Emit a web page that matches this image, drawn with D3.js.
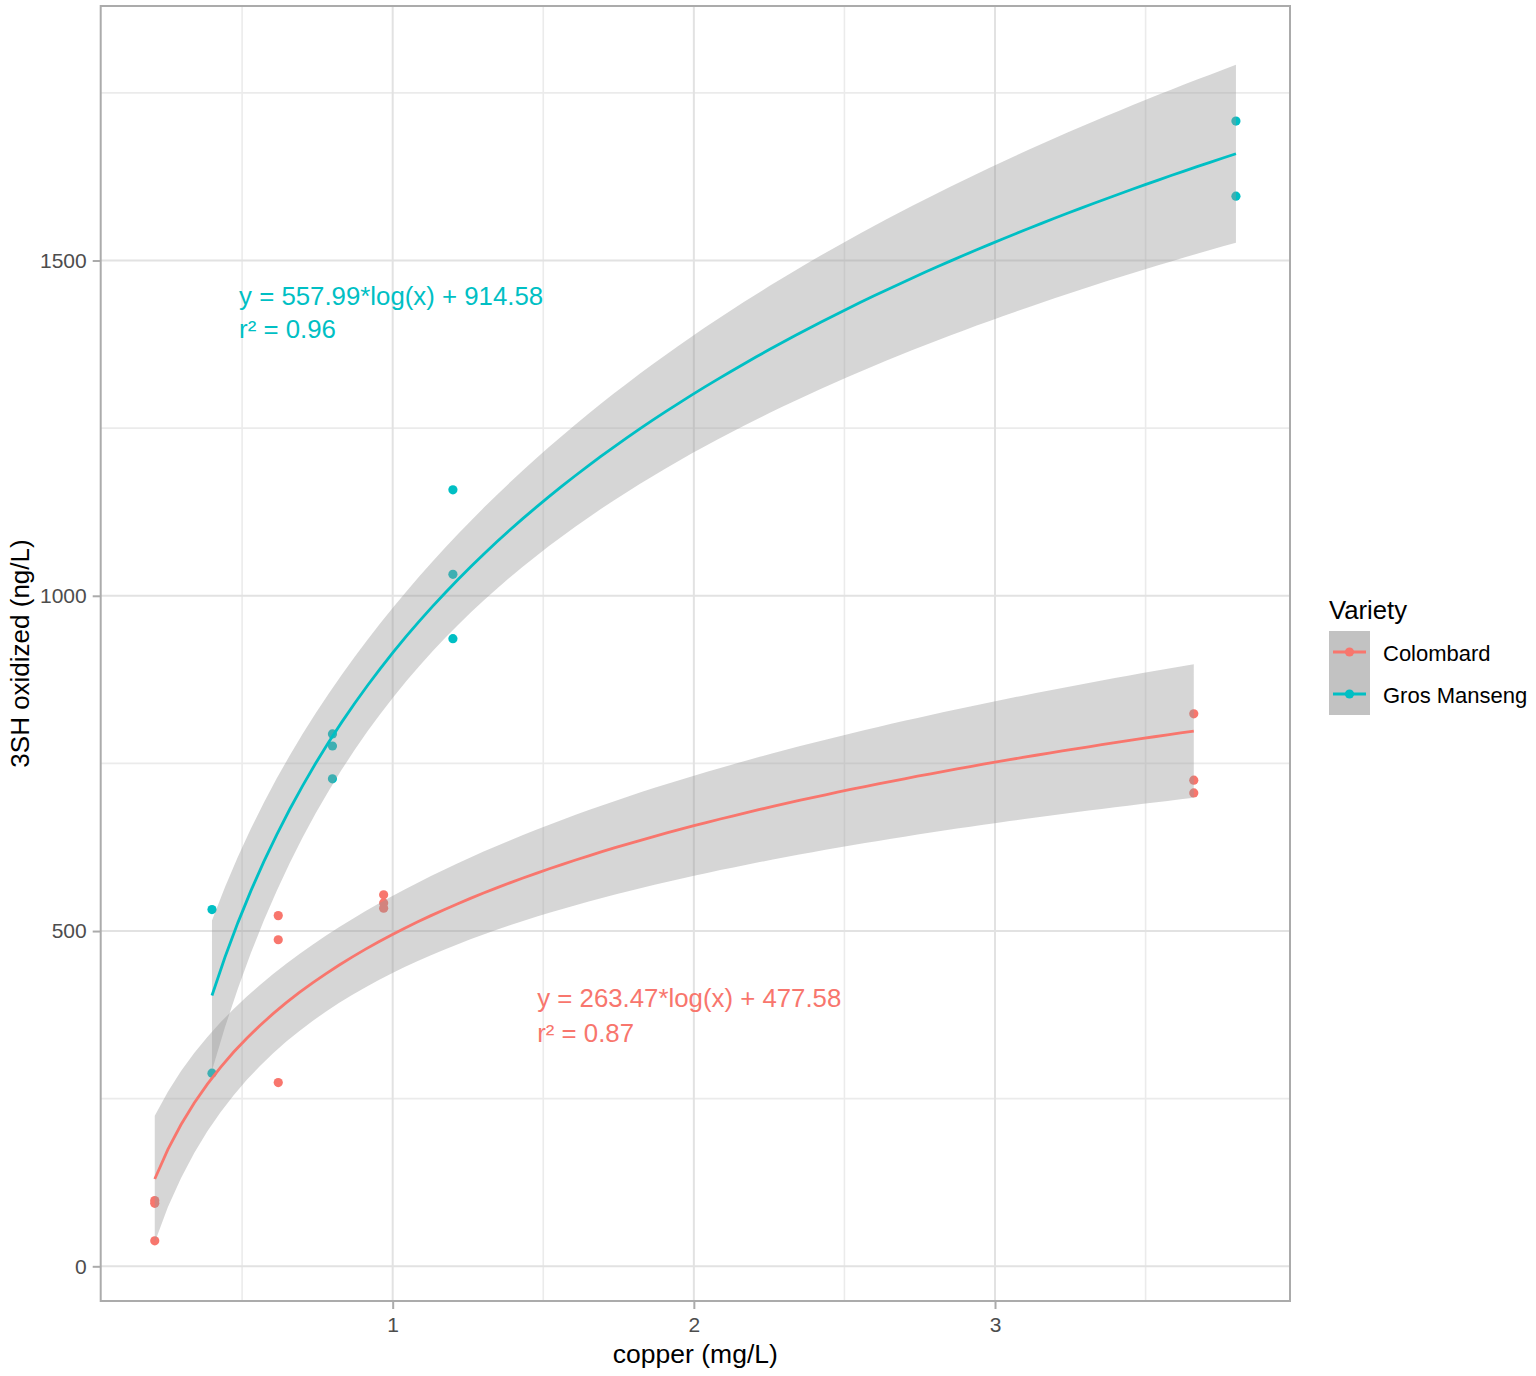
<!DOCTYPE html>
<html><head><meta charset="utf-8">
<script src="https://cdn.jsdelivr.net/npm/d3@7"></script>
<style>
body{margin:0;background:#fff}
text{font-family:"Liberation Sans",Arial,sans-serif}
</style>
</head><body>
<svg id="chart" width="1536" height="1376"></svg>
<script>
// ---------- data ----------
const varieties = ["Colombard", "Gros Manseng"];
const varietyColors = ["#F8766D", "#00BFC4"];
const colombardCopper = [0.21, 0.21, 0.21, 0.62, 0.62, 0.62, 0.97, 0.97, 0.97, 3.66, 3.66, 3.66];
const colombard3SH   = [98, 94, 38, 523, 487, 274, 554, 542, 534, 824, 725, 706];
const grosMansengCopper = [0.40, 0.40, 0.80, 0.80, 0.80, 1.20, 1.20, 1.20, 3.80, 3.80];
const grosManseng3SH    = [532, 288, 794, 776, 727, 1158, 1032, 936, 1708, 1596];
const xTickValues = [1, 2, 3];
const yTickValues = [0, 500, 1000, 1500];
const equationLabels = ["y = 263.47*log(x) + 477.58", "y = 557.99*log(x) + 914.58"];
const r2Labels = ["r\u00B2 = 0.87", "r\u00B2 = 0.96"];
const xTitle = "copper (mg/L)";
const yTitle = "3SH oxidized (ng/L)";
const legendTitle = "Variety";

// ---------- stats helpers (lm y ~ log(x) with 95% CI, like geom_smooth) ----------
function lnGamma(z){
  const g=7, c=[0.99999999999980993,676.5203681218851,-1259.1392167224028,771.32342877765313,
    -176.61502916214059,12.507343278686905,-0.13857109526572012,9.9843695780195716e-6,1.5056327351493116e-7];
  if(z<0.5) return Math.log(Math.PI/Math.sin(Math.PI*z))-lnGamma(1-z);
  z-=1; let x=c[0]; for(let i=1;i<g+2;i++) x+=c[i]/(z+i);
  const t=z+g+0.5; return 0.5*Math.log(2*Math.PI)+(z+0.5)*Math.log(t)-t+Math.log(x);
}
function tCdf(t, df){
  const k=Math.exp(lnGamma((df+1)/2)-lnGamma(df/2))/Math.sqrt(df*Math.PI);
  const f=u=>k*Math.pow(1+u*u/df,-(df+1)/2);
  const n=400, h=t/n; let s=f(0)+f(t);
  for(let i=1;i<n;i++) s+=(i%2?4:2)*f(i*h);
  return 0.5+s*h/3;
}
function tQuantile(p, df){
  let lo=0, hi=20;
  for(let i=0;i<60;i++){ const m=(lo+hi)/2; if(tCdf(m,df)<p) lo=m; else hi=m; }
  return (lo+hi)/2;
}
function logFit(xs, ys){
  const n=xs.length, lx=xs.map(Math.log);
  const mx=d3.mean(lx), my=d3.mean(ys);
  let sxx=0, sxy=0;
  for(let i=0;i<n;i++){ sxx+=(lx[i]-mx)**2; sxy+=(lx[i]-mx)*(ys[i]-my); }
  const b=sxy/sxx, a=my-b*mx;
  let sse=0; for(let i=0;i<n;i++) sse+=(ys[i]-(a+b*lx[i]))**2;
  const s=Math.sqrt(sse/(n-2)), tq=tQuantile(0.975,n-2);
  const [x0,x1]=d3.extent(xs);
  return d3.range(80).map(i=>{
    const x=x0+(x1-x0)*i/79, l=Math.log(x), y=a+b*l;
    const se=s*Math.sqrt(1/n+(l-mx)**2/sxx);
    return {x, y, lo:y-tq*se, hi:y+tq*se};
  });
}

const groups = [
  {name:varieties[0], color:varietyColors[0], xs:colombardCopper, ys:colombard3SH},
  {name:varieties[1], color:varietyColors[1], xs:grosMansengCopper, ys:grosManseng3SH}
];
groups.forEach(g=>{ g.points=g.xs.map((x,i)=>({x, y:g.ys[i]})); g.fit=logFit(g.xs,g.ys); });

// ---------- layout ----------
const svg = d3.select("#chart");
const P = {left:100.7, right:1290, top:6, bottom:1301};

const allX = groups.flatMap(g=>g.xs);
const allY = groups.flatMap(g=>[...g.ys, ...g.fit.map(d=>d.lo), ...g.fit.map(d=>d.hi)]);
function expand([a,b]){ const e=(b-a)*0.05; return [a-e,b+e]; }
const x = d3.scaleLinear().domain(expand(d3.extent(allX))).range([P.left,P.right]);
const y = d3.scaleLinear().domain(expand(d3.extent(allY))).range([P.bottom,P.top]);

// grid
const gGrid = svg.append("g");
const xMinor = xTickValues.map(v=>v-0.5).concat([xTickValues[xTickValues.length-1]+0.5]);
const yMinor = yTickValues.map(v=>v+250);
gGrid.selectAll(".xm").data(xMinor.filter(v=>x(v)>P.left&&x(v)<P.right)).join("line")
  .attr("x1",d=>x(d)).attr("x2",d=>x(d)).attr("y1",P.top).attr("y2",P.bottom)
  .attr("stroke","#ebebeb").attr("stroke-width",1.6);
gGrid.selectAll(".ym").data(yMinor.filter(v=>y(v)>P.top&&y(v)<P.bottom)).join("line")
  .attr("y1",d=>y(d)).attr("y2",d=>y(d)).attr("x1",P.left).attr("x2",P.right)
  .attr("stroke","#ebebeb").attr("stroke-width",1.6);
gGrid.selectAll(".xM").data(xTickValues).join("line")
  .attr("x1",d=>x(d)).attr("x2",d=>x(d)).attr("y1",P.top).attr("y2",P.bottom)
  .attr("stroke","#e2e2e2").attr("stroke-width",2);
gGrid.selectAll(".yM").data(yTickValues).join("line")
  .attr("y1",d=>y(d)).attr("y2",d=>y(d)).attr("x1",P.left).attr("x2",P.right)
  .attr("stroke","#e2e2e2").attr("stroke-width",2);

// points (under the ribbons, as in the reference)
groups.forEach(g=>{
  svg.append("g").selectAll("circle").data(g.points).join("circle")
    .attr("cx",d=>x(d.x)).attr("cy",d=>y(d.y)).attr("r",4.6).attr("fill",g.color);
});

// ribbons + lines
const area = d3.area().x(d=>x(d.x)).y0(d=>y(d.lo)).y1(d=>y(d.hi));
const line = d3.line().x(d=>x(d.x)).y(d=>y(d.y));
groups.forEach(g=>{
  svg.append("path").datum(g.fit).attr("d",area).attr("fill","#999999").attr("fill-opacity",0.4);
  svg.append("path").datum(g.fit).attr("d",line).attr("fill","none").attr("stroke",g.color).attr("stroke-width",2.8);
});

// annotations
const ann = [
  {g:0, px:1.48, py:387, dy:35},
  {g:1, px:0.49, py:1434, dy:33}
];
ann.forEach(a=>{
  svg.append("text").attr("x",x(a.px)).attr("y",y(a.py)).attr("fill",varietyColors[a.g])
    .attr("font-size",25.8).text(equationLabels[a.g]);
  svg.append("text").attr("x",x(a.px)).attr("y",y(a.py)+a.dy).attr("fill",varietyColors[a.g])
    .attr("font-size",25.8).text(r2Labels[a.g]);
});

// panel border
svg.append("rect").attr("x",P.left).attr("y",P.top).attr("width",P.right-P.left).attr("height",P.bottom-P.top)
  .attr("fill","none").attr("stroke","#ababab").attr("stroke-width",2);

// axes
const xAxis = d3.axisBottom(x).tickValues(xTickValues).tickSize(8).tickPadding(8).tickFormat(d3.format("d"));
const gx = svg.append("g").attr("transform",`translate(0,${P.bottom})`).call(xAxis);
const yAxis = d3.axisLeft(y).tickValues(yTickValues).tickSize(8).tickPadding(6).tickFormat(d3.format("d"));
const gy = svg.append("g").attr("transform",`translate(${P.left},0)`).call(yAxis);
[gx,gy].forEach(g=>{
  g.select(".domain").remove();
  g.selectAll(".tick line").attr("stroke","#ababab").attr("stroke-width",2);
  g.selectAll(".tick text").attr("fill","#4d4d4d").attr("font-size",21)
    .attr("font-family",'"Liberation Sans",Arial,sans-serif');
});

// axis titles
svg.append("text").attr("x",(P.left+P.right)/2).attr("y",1363).attr("text-anchor","middle")
  .attr("font-size",26.5).attr("fill","#000").text(xTitle);
svg.append("text").attr("transform",`translate(29,${(P.top+P.bottom)/2}) rotate(-90)`).attr("text-anchor","middle")
  .attr("font-size",26).attr("fill","#000").text(yTitle);

// legend
const L = {x:1329, y:631, kw:41, kh:42};
svg.append("text").attr("x",L.x).attr("y",619).attr("font-size",25.7).attr("fill","#000").text(legendTitle);
groups.forEach((g,i)=>{
  const ky=L.y+i*L.kh;
  svg.append("rect").attr("x",L.x).attr("y",ky).attr("width",L.kw).attr("height",L.kh).attr("fill","#c2c2c2");
  svg.append("line").attr("x1",L.x+4).attr("x2",L.x+L.kw-4).attr("y1",ky+L.kh/2).attr("y2",ky+L.kh/2)
    .attr("stroke",g.color).attr("stroke-width",2.8);
  svg.append("circle").attr("cx",L.x+L.kw/2).attr("cy",ky+L.kh/2).attr("r",4.6).attr("fill",g.color);
  svg.append("text").attr("x",1383).attr("y",ky+L.kh/2+9).attr("font-size",22).attr("fill","#000").text(g.name);
});
</script>
</body></html>
